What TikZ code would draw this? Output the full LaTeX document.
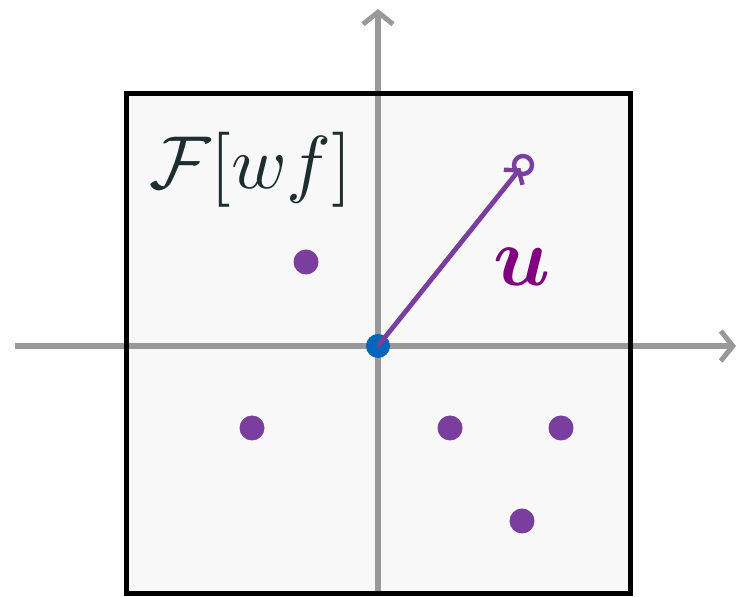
\documentclass[tikz,border=0pt]{standalone}
\usepackage{amsmath,bm}
\usetikzlibrary{arrows.meta}
\definecolor{axisgray}{HTML}{999999}
\definecolor{dotpurple}{HTML}{7A3E9E}
\definecolor{upurple}{HTML}{800080}
\definecolor{dotblue}{HTML}{0066BB}
\definecolor{textdark}{HTML}{1E2E2E}
\definecolor{panel}{HTML}{F8F8F8}
\tikzset{
  axisline/.style={draw=axisgray, line width=5.2pt, -{Straight Barb[length=12pt,width=30pt,line width=5pt]}},
  pdot/.style={circle, fill=dotpurple, inner sep=0pt, minimum size=25pt},
  bdot/.style={circle, fill=dotblue, inner sep=0pt, minimum size=24pt},
  odot/.style={circle, draw=dotpurple, line width=4.4pt, fill=panel, inner sep=0pt, minimum size=18pt},
  vec/.style={draw=dotpurple, line width=4.8pt, -{Straight Barb[length=9pt,width=24pt,line width=4.4pt]}}
}
\begin{document}
\begin{tikzpicture}[x=1pt,y=1pt]
\useasboundingbox (0,0) rectangle (739,597);
% panel
\fill[panel] (126,3) rectangle (630,503);
% axes
\coordinate (xs) at (15,251);
\coordinate (xe) at (736,251);
\coordinate (ys) at (378,3);
\coordinate (ye) at (378,588);
\draw[axisline] (xs) -- (xe);
\draw[axisline] (ys) -- (ye);
% frame
\draw[line width=5pt] (126,3) rectangle (630,503);
% label
\node[text=textdark, scale=7.5] (F) at (251,427) {$\mathcal{F}[wf]$};
% dots
\node[pdot] (d1) at (306,335) {};
\node[pdot] (d2) at (252,169) {};
\node[pdot] (d3) at (450,169) {};
\node[pdot] (d4) at (561,169) {};
\node[pdot] (d5) at (522,76) {};
% vector
\node[bdot] (o) at (378,251) {};
\node[odot] (t) at (523,432) {};
\draw[vec, shorten >=4pt] (o.center) -- (t.center);
\node[text=upurple, scale=8.4] (u) at (522,330) {$\bm{u}$};
\end{tikzpicture}
\end{document}
